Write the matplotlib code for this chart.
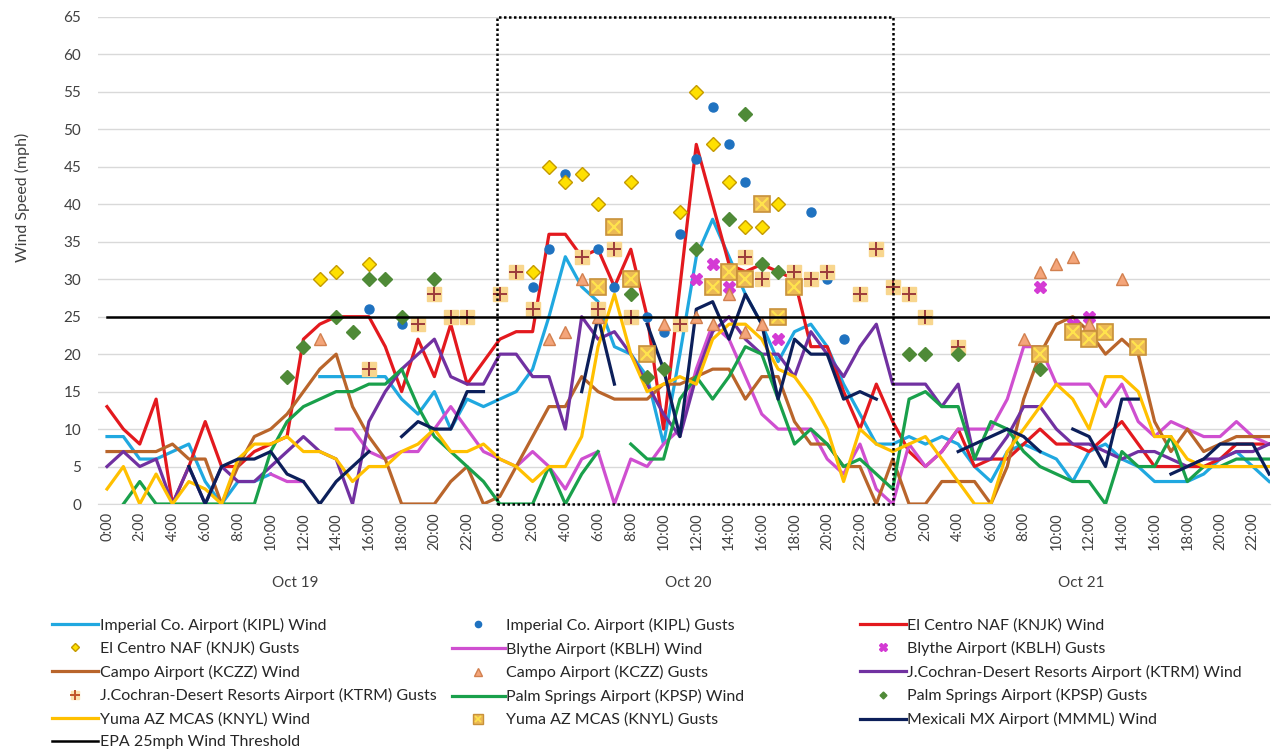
import numpy as np
import matplotlib
matplotlib.use("Agg")
import matplotlib.pyplot as plt
from matplotlib.lines import Line2D
from matplotlib.patches import Rectangle

plt.rcParams['font.family'] = ['Lato', 'DejaVu Sans']

# hourly data, Oct 19 0:00 .. Oct 21 23:00 (None = no report)
hours = list(range(72))
day_labels = ["Oct 19", "Oct 20", "Oct 21"]

imperial_wind = [9, 9, 6, 6, 7, 8, 3, 0, 3, 3, 4, None,
                 None, 17, 17, 17, 17, 17, 14, 12, 15, 10, 14, 13,
                 14, 15, 18, 25, 33, 29, 27, 21, 20, 17, 8, 20,
                 33, 38, 33, 28, 24, 19, 23, 24, 21, 16, 12, 8,
                 8, 9, 8, 9, 8, 5, 3, 7, 8, 7, 6, 3,
                 7, 8, 6, 5, 3, 3, 3, 4, 6, 7, 5, 3]
elcentro_wind = [13, 10, 8, 14, 0, 5, 11, 5, 5, 7, 8, 9,
                 22, 24, 25, 25, 25, 21, 15, 22, 17, 24, 16, 19,
                 22, 23, 23, 36, 36, 33, 34, 29, 34, 25, 10, 29,
                 48, 40, 32, 31, 32, 31, 30, 21, 21, 15, 10, 16,
                 11, 7, 5, 7, 10, 5, 6, 6, 8, 10, 8, 8,
                 7, 9, 11, 8, 5, 5, 5, 5, 6, 8, 8, 8]
blythe_wind = [None, None, None, None, None, None, None, None, None, None, 4, 3,
               3, None, 10, 10, 7, 6, 7, 7, 10, 13, 10, 7,
               6, 5, 7, 5, 2, 6, 7, 0, 6, 5, 8, 10,
               18, 24, 22, 17, 12, 10, 10, 10, 6, 4, 8, 2,
               0, 8, 5, 7, 10, 10, 10, 14, 21, 21, 16, 16,
               16, 13, 16, 11, 9, 11, 10, 9, 9, 11, 9, 8]
campo_wind = [7, 7, 7, 7, 8, 6, 6, 0, 5, 9, 10, 12,
              15, 18, 20, 13, 9, 6, 0, 0, 0, 3, 5, 0,
              1, 5, 9, 13, 13, 17, 15, 14, 14, 14, 16, 16,
              17, 18, 18, 14, 17, 17, 11, 8, 8, 5, 5, 0,
              6, 0, 0, 3, 3, 3, 0, 5, 14, 20, 24, 25,
              23, 20, 22, 20, 11, 7, 10, 7, 8, 9, 9, 9]
jcochran_wind = [5, 7, 5, 6, 0, 5, 0, 5, 3, 3, 5, 7,
                 9, 7, 6, 0, 11, 15, 18, 20, 22, 17, 16, 16,
                 20, 20, 17, 17, 10, 25, 22, 23, 20, 16, 12, 9,
                 17, 23, 25, 22, 20, 20, 17, 23, 20, 17, 21, 24,
                 16, 16, 16, 13, 16, 6, 6, 9, 13, 13, 10, 8,
                 8, 7, 6, 7, 7, 6, 5, 6, 6, 7, 7, 8]
palmsprings_wind = [None, 0, 3, 0, 0, 0, 0, 0, 0, 0, 7, 11,
                    13, 14, 15, 15, 16, 16, 18, 13, 9, 7, 5, 3,
                    0, 0, 0, 5, 0, 4, 7, None, 8, 6, 6, 14,
                    17, 14, 17, 21, 20, 14, 8, 10, 8, 5, 6, 4,
                    2, 14, 15, 13, 13, 6, 11, 10, 7, 5, 4, 3,
                    3, 0, 7, 5, 5, 9, 3, 5, 5, 6, 6, 6]
yuma_wind = [2, 5, 0, 4, 0, 3, 2, 0, 6, 8, 8, 9,
             7, 7, 6, 3, 5, 5, 7, 8, 10, 7, 7, 8,
             6, 5, 3, 5, 5, 9, 21, 28, 20, 15, 16, 17,
             16, 22, 24, 24, 22, 18, 17, 14, 10, 3, 10, 8,
             7, 8, 9, 6, 3, 0, 0, 7, 10, 13, 16, 14,
             10, 17, 17, 15, 9, 9, 6, 5, 5, 5, 5, 5]
mexicali_wind = [None, None, None, None, None, 5, 0, 5, 6, 6, 7, 4,
                 3, 0, 3, 5, 7, None, 9, 11, 10, 10, 15, 15,
                 None, None, None, None, None, 15, 25, 16, None, 24, 18, 9,
                 26, 27, 22, 28, 24, 14, 22, 20, 20, 14, 15, 14,
                 None, None, None, None, 7, 8, 9, 10, 9, 7, None, 10,
                 9, 5, 14, 14, None, 4, 5, 6, 8, 8, 8, 4]

imperial_gust_h = [16, 18, 26, 27, 28, 29, 30, 31, 33, 34, 35, 36, 37, 38, 39, 40, 43, 44, 45]
imperial_gust_v = [26, 24, 29, 34, 44, 33, 34, 29, 25, 23, 36, 46, 53, 48, 43, 32, 39, 30, 22]
elcentro_gust_h = [13, 14, 16, 26, 27, 28, 29, 30, 32, 35, 36, 37, 38, 39, 40, 41]
elcentro_gust_v = [30, 31, 32, 31, 45, 43, 44, 40, 43, 39, 55, 48, 43, 37, 37, 40]
blythe_gust_h = [36, 37, 38, 41, 57, 59, 60]
blythe_gust_v = [30, 32, 29, 22, 29, 24, 25]
campo_gust_h = [13, 27, 28, 29, 30, 34, 36, 37, 38, 39, 40, 56, 57, 58, 59, 60, 62]
campo_gust_v = [22, 22, 23, 30, 25, 24, 25, 24, 28, 23, 24, 22, 31, 32, 33, 24, 30]
jcochran_gust_h = [16, 19, 20, 21, 22, 24, 25, 26, 29, 30, 31, 32, 35, 39, 40, 42, 43, 44,
                   46, 47, 48, 49, 50, 52]
jcochran_gust_v = [18, 24, 28, 25, 25, 28, 31, 26, 33, 26, 34, 25, 24, 33, 30, 31, 30, 31,
                   28, 34, 29, 28, 25, 21]
palms_gust_h = [11, 12, 14, 15, 16, 17, 18, 20, 32, 33, 34, 36, 38, 39, 40, 41, 49, 50, 52, 57]
palms_gust_v = [17, 21, 25, 23, 30, 30, 25, 30, 28, 17, 18, 34, 38, 52, 32, 31, 20, 20, 20, 18]
yuma_gust_h = [30, 31, 32, 33, 37, 38, 39, 40, 41, 42, 57, 59, 60, 61, 63]
yuma_gust_v = [29, 37, 30, 20, 29, 31, 30, 40, 25, 29, 20, 23, 22, 23, 21]

threshold = 25
box_start, box_end = 23.8, 48.0

C_IMP = '#20A8E0'
C_IMPG = '#1F72C0'
C_ELC = '#E3191E'
C_BLY = '#CF4FD0'
C_CAM = '#B9652B'
C_TRM = '#7131A1'
C_PSP = '#19A04B'
C_PSPG = '#4F8A37'
C_YUM = '#FFC000'
C_MEX = '#0C1F5A'

LW = 2.3

fig = plt.figure(figsize=(12.78, 7.5), dpi=100)
ax = fig.add_axes([98 / 1278, 1 - 504 / 750, (1270 - 98) / 1278, (504 - 17) / 750])

def arr(v):
    return np.array(v, dtype=float)

ax.plot(hours, arr(imperial_wind), color=C_IMP, lw=LW, zorder=3)
ax.plot(imperial_gust_h, imperial_gust_v, 'o', color=C_IMPG, ms=6.5, mec=C_IMPG, zorder=4)
ax.plot(hours, arr(elcentro_wind), color=C_ELC, lw=LW, zorder=3)
ax.plot(elcentro_gust_h, elcentro_gust_v, 'D', color='#FFE000', mec='#C49A00', ms=7.5, mew=1.0, zorder=4)
ax.plot(hours, arr(blythe_wind), color=C_BLY, lw=LW, zorder=3)
ax.plot(blythe_gust_h, blythe_gust_v, 'X', color='#D43BD4', ms=8, mec='#D43BD4', zorder=4)
ax.plot(hours, arr(campo_wind), color=C_CAM, lw=LW, zorder=3)
ax.plot(campo_gust_h, campo_gust_v, '^', color='#F4A57A', mec='#D2804F', ms=9, mew=1.0, zorder=4)
ax.plot(hours, arr(jcochran_wind), color=C_TRM, lw=LW, zorder=3)
ax.plot(jcochran_gust_h, jcochran_gust_v, 's', color='#F8D68E', mec='#F8D68E', ms=9.5, zorder=4)
ax.plot(jcochran_gust_h, jcochran_gust_v, '+', color='#9B3A3A', ms=9.5, mew=1.4, zorder=4)
ax.plot(hours, arr(palmsprings_wind), color=C_PSP, lw=LW, zorder=3)
ax.plot(palms_gust_h, palms_gust_v, 'D', color=C_PSPG, mec=C_PSPG, ms=7, zorder=4)
ax.plot(hours, arr(yuma_wind), color=C_YUM, lw=LW, zorder=3)
ax.plot(yuma_gust_h, yuma_gust_v, 's', color='#EBB956', mec='#C8913A', ms=11.5, mew=1.2, zorder=4)
ax.plot(yuma_gust_h, yuma_gust_v, 'x', color='#FFE34D', ms=8, mew=1.6, zorder=4)
ax.plot(hours, arr(mexicali_wind), color=C_MEX, lw=LW, zorder=3)
ax.plot(hours, [threshold] * len(hours), color='black', lw=1.8, zorder=5)

ax.add_patch(Rectangle((box_start, 0), box_end - box_start, 65, fill=False,
                       ls=(0, (1, 1)), lw=1.8, ec='black', zorder=6, clip_on=False))

ax.set_xlim(-0.55, 71.05)
ax.set_ylim(0, 65)
ax.set_yticks(range(0, 66, 5))
ax.yaxis.grid(True, color='#D9D9D9', lw=1.0)
ax.set_axisbelow(True)
for s in ['left', 'right', 'top']:
    ax.spines[s].set_visible(False)
ax.spines['bottom'].set_color('#D9D9D9')
ax.tick_params(axis='y', length=0, pad=12, labelsize=11, labelcolor='#404040')

xt = list(range(0, 72, 2))
ax.set_xticks(xt)
ax.set_xticklabels([f"{h % 24}:00" for h in xt], rotation=90, ha='center', va='top')
ax.tick_params(axis='x', length=0, pad=6, labelsize=10.5, labelcolor='#404040')

for i, d in enumerate(day_labels):
    ax.text(i * 24 + 11.5, -0.163, d, transform=ax.get_xaxis_transform(),
            ha='center', va='center', fontsize=11, color='#404040')

fig.text(22 / 1278, 1 - 197 / 750, "Wind Speed (mph)", rotation=90,
         ha='center', va='center', fontsize=11.5, color='#404040')

# legend, three columns laid out row by row
def line_h(c, lw=LW):
    return Line2D([], [], color=c, lw=lw)

def mark_h(m, **kw):
    return Line2D([], [], ls='none', marker=m, **kw)

h_imp_w = line_h(C_IMP)
h_imp_g = mark_h('o', color=C_IMPG, ms=4.5)
h_elc_w = line_h(C_ELC)
h_elc_g = mark_h('D', color='#FFE000', mec='#C49A00', ms=4.5)
h_bly_w = line_h(C_BLY)
h_bly_g = mark_h('X', color='#D43BD4', ms=5.5)
h_cam_w = line_h(C_CAM)
h_cam_g = mark_h('^', color='#F4A57A', mec='#D2804F', ms=5.5)
h_trm_w = line_h(C_TRM)
h_trm_g = (mark_h('s', color='#FBE3B0', mec='#FBE3B0', ms=6), mark_h('+', color='#C0552A', ms=6.5, mew=1.4))
h_psp_w = line_h(C_PSP)
h_psp_g = mark_h('D', color=C_PSPG, ms=3.5)
h_yum_w = line_h(C_YUM)
h_yum_g = (mark_h('s', color='#EBB956', mec='#C8913A', ms=6.5), mark_h('x', color='#FFE34D', ms=4.5, mew=1.2))
h_mex_w = line_h(C_MEX)
h_epa = line_h('black', 1.8)

col1 = [(h_imp_w, "Imperial Co. Airport (KIPL) Wind"),
        (h_elc_g, "El Centro NAF (KNJK) Gusts"),
        (h_cam_w, "Campo Airport (KCZZ) Wind"),
        (h_trm_g, "J.Cochran-Desert Resorts Airport (KTRM) Gusts"),
        (h_yum_w, "Yuma AZ MCAS (KNYL) Wind"),
        (h_epa, "EPA 25mph Wind Threshold")]
col2 = [(h_imp_g, "Imperial Co. Airport (KIPL) Gusts"),
        (h_bly_w, "Blythe Airport (KBLH) Wind"),
        (h_cam_g, "Campo Airport (KCZZ) Gusts"),
        (h_psp_w, "Palm Springs Airport (KPSP) Wind"),
        (h_yum_g, "Yuma AZ MCAS (KNYL) Gusts")]
col3 = [(h_elc_w, "El Centro NAF (KNJK) Wind"),
        (h_bly_g, "Blythe Airport (KBLH) Gusts"),
        (h_trm_w, "J.Cochran-Desert Resorts Airport (KTRM) Wind"),
        (h_psp_g, "Palm Springs Airport (KPSP) Gusts"),
        (h_mex_w, "Mexicali MX Airport (MMML) Wind")]

for items, x0, hl in [(col1, 52, 2.9), (col2, 452, 3.3), (col3, 860, 2.85)]:
    fig.legend([h for h, _ in items], [t for _, t in items], loc='upper left',
               bbox_to_anchor=(x0 / 1278, 1 - 618 / 750), frameon=False,
               borderaxespad=0, borderpad=0, fontsize=11.5, handlelength=hl,
               handletextpad=0.1, labelspacing=0.54, labelcolor='#262626')

fig.savefig("out.png", dpi=100)
